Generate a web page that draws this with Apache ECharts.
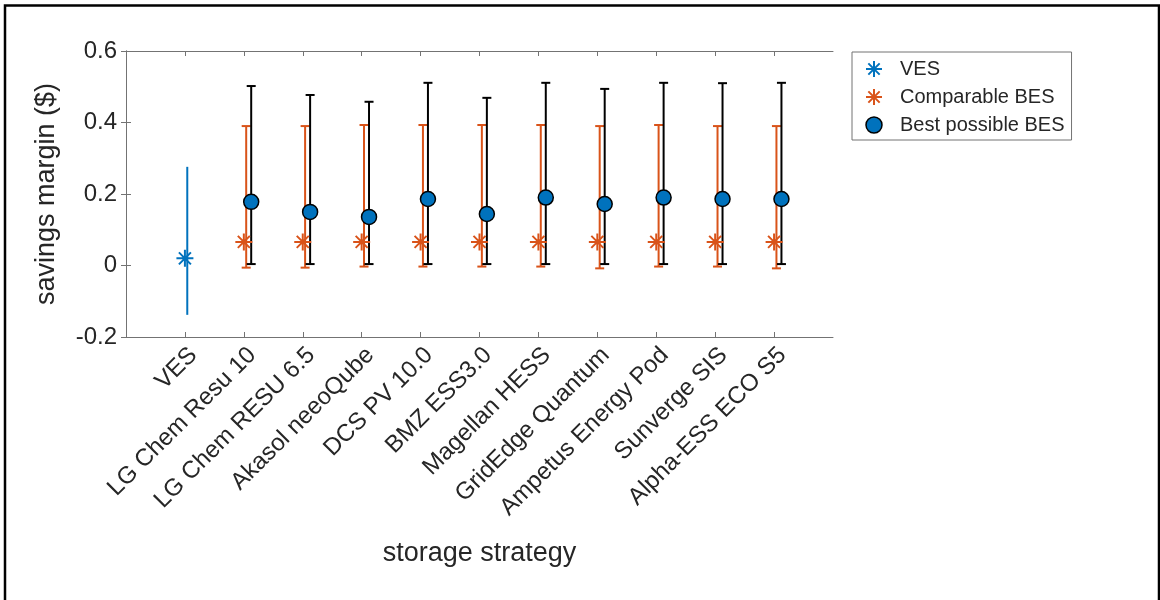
<!DOCTYPE html>
<html>
<head>
<meta charset="utf-8">
<script src="https://cdn.jsdelivr.net/npm/echarts@6/dist/echarts.min.js"></script>
<style>
html,body{margin:0;padding:0;background:#fff;}
#chart{width:1160px;height:600px;}
</style>
</head>
<body>
<div id="chart"></div>
<script>
// ---- data ----
const categories = ['VES','LG Chem Resu 10','LG Chem RESU 6.5','Akasol neeoQube','DCS PV 10.0','BMZ ESS3.0','Magellan HESS','GridEdge Quantum','Ampetus Energy Pod','Sunverge SIS','Alpha-ESS ECO S5'];
const vesMean = [0.020];
const vesLow = [-0.138];
const vesHigh = [0.276];
const compMean = [0.066,0.066,0.066,0.066,0.066,0.066,0.066,0.066,0.066,0.066];
const compLow  = [-0.006,-0.006,-0.003,-0.003,-0.003,-0.003,-0.008,-0.003,-0.003,-0.008];
const compHigh = [0.390,0.390,0.393,0.393,0.393,0.393,0.390,0.393,0.390,0.390];
const bestMean = [0.178,0.150,0.136,0.186,0.144,0.190,0.172,0.190,0.186,0.186];
const bestLow  = [0.004,0.004,0.004,0.004,0.004,0.004,0.004,0.004,0.004,0.004];
const bestHigh = [0.502,0.477,0.458,0.511,0.469,0.511,0.494,0.511,0.510,0.511];

// ---- styling constants ----
const BLUE = '#0072BD', ORANGE = '#D95319', BLACK = '#000000';
const AX = '#737373', TXT = '#262626';
const FONT = '"Liberation Sans", Arial, Helvetica, sans-serif';
const BAR_OFF = 0.04, BEST_OFF = 0.125;
const STAR = 'path://M0,-10L0,10M-10,0L10,0M-7.07,-7.07L7.07,7.07M-7.07,7.07L7.07,-7.07';

const tickPos = categories.map((c,i)=>i+1);

function errRender(offset, capHalf, color) {
  return function (params, api) {
    const x = api.value(0) + offset;
    const lo = api.coord([x, api.value(1)]);
    const hi = api.coord([x, api.value(2)]);
    const style = {stroke: color, lineWidth: 2, fill: null};
    const children = [{type:'line', shape:{x1:lo[0],y1:lo[1],x2:hi[0],y2:hi[1]}, style}];
    if (capHalf > 0) {
      children.push({type:'line', shape:{x1:lo[0]-capHalf,y1:lo[1],x2:lo[0]+capHalf,y2:lo[1]}, style});
      children.push({type:'line', shape:{x1:hi[0]-capHalf,y1:hi[1],x2:hi[0]+capHalf,y2:hi[1]}, style});
    }
    return {type:'group', children};
  };
}

const vesErr = vesMean.map((m,i)=>[i+1, vesLow[i], vesHigh[i]]);
const compErr = compMean.map((m,i)=>[i+2, compLow[i], compHigh[i]]);
const bestErr = bestMean.map((m,i)=>[i+2, bestLow[i], bestHigh[i]]);
const vesPts = vesMean.map((m,i)=>[i+1, m]);
const compPts = compMean.map((m,i)=>[i+2, m]);
const bestPts = bestMean.map((m,i)=>[i+2+BEST_OFF, m]);

const xBase = {
  type:'value', min:0, max:12,
  splitLine:{show:false},
  axisLine:{show:true, onZero:false, lineStyle:{color:AX, width:1}},
  axisTick:{show:true, inside:true, length:5, customValues: tickPos, lineStyle:{color:AX}},
};
const yBase = {
  type:'value', min:-0.2, max:0.6, interval:0.2,
  splitLine:{show:false},
  axisLine:{show:true, lineStyle:{color:AX, width:1}},
  axisTick:{show:true, inside:true, length:5, lineStyle:{color:AX}},
};

const option = {
  animation:false,
  backgroundColor:'#fff',
  textStyle:{fontFamily:FONT},
  grid:{left:126, right:327, top:51, bottom:263, containLabel:false},
  xAxis:[
    Object.assign({}, xBase, {position:'bottom',
      name:'storage strategy', nameLocation:'middle', nameGap:203,
      nameTextStyle:{fontSize:27, color:TXT, fontFamily:FONT},
      axisLabel:{show:true, rotate:45, margin:6, fontSize:24, color:TXT, fontFamily:FONT,
        align:'right', verticalAlign:'top',
        customValues: tickPos,
        formatter:(v)=>categories[Math.round(v)-1] || ''}}),
    Object.assign({}, xBase, {position:'top', axisLabel:{show:false}})
  ],
  yAxis:[
    Object.assign({}, yBase, {position:'left',
      name:'savings margin ($)', nameLocation:'middle', nameGap:66, nameRotate:90,
      nameTextStyle:{fontSize:27, color:TXT, fontFamily:FONT},
      axisLabel:{show:true, margin:9, fontSize:24, color:TXT, fontFamily:FONT,
        formatter:(v)=>String(Math.round(v*10)/10)}}),
    Object.assign({}, yBase, {position:'right', axisLabel:{show:false}})
  ],
  legend:{
    orient:'vertical', left:852, top:52,
    itemWidth:42, itemHeight:16, itemGap:8,
    padding:[7,7,5,13],
    borderColor:AX, borderWidth:1, backgroundColor:'#fff',
    textStyle:{fontSize:20, color:TXT, fontFamily:FONT},
    data:[
      {name:'VES', icon:STAR, itemStyle:{color:BLUE, borderColor:BLUE, borderWidth:2}},
      {name:'Comparable BES', icon:STAR, itemStyle:{color:ORANGE, borderColor:ORANGE, borderWidth:2}},
      {name:'Best possible BES', icon:'circle', itemStyle:{color:BLUE, borderColor:BLACK, borderWidth:1.5}}
    ]
  },
  series:[
    {type:'custom', name:'VES err', data:vesErr, renderItem:errRender(BAR_OFF, 0, BLUE), z:2, silent:true},
    {type:'custom', name:'Comparable err', data:compErr, renderItem:errRender(BAR_OFF, 4.5, ORANGE), z:2, silent:true},
    {type:'custom', name:'Best err', data:bestErr, renderItem:errRender(BEST_OFF, 4.5, BLACK), z:3, silent:true},
    {type:'scatter', name:'VES', data:vesPts, symbol:STAR, symbolSize:17, symbolKeepAspect:true,
      itemStyle:{color:BLUE, borderColor:BLUE, borderWidth:2, opacity:1}, z:4},
    {type:'scatter', name:'Comparable BES', data:compPts, symbol:STAR, symbolSize:17, symbolKeepAspect:true,
      itemStyle:{color:ORANGE, borderColor:ORANGE, borderWidth:2, opacity:1}, z:4},
    {type:'scatter', name:'Best possible BES', data:bestPts, symbol:'circle', symbolSize:15, symbolKeepAspect:true,
      itemStyle:{color:BLUE, borderColor:BLACK, borderWidth:1.5, opacity:1}, z:5}
  ],
  graphic:[
    {type:'polyline', shape:{points:[[5,600],[5,5.5],[1159,5.5],[1159,600]]},
      style:{stroke:'#000', lineWidth:2.5, fill:null}, silent:true}
  ]
};

const chart = echarts.init(document.getElementById('chart'), null, {renderer:'canvas'});
chart.setOption(option);
</script>
</body>
</html>
